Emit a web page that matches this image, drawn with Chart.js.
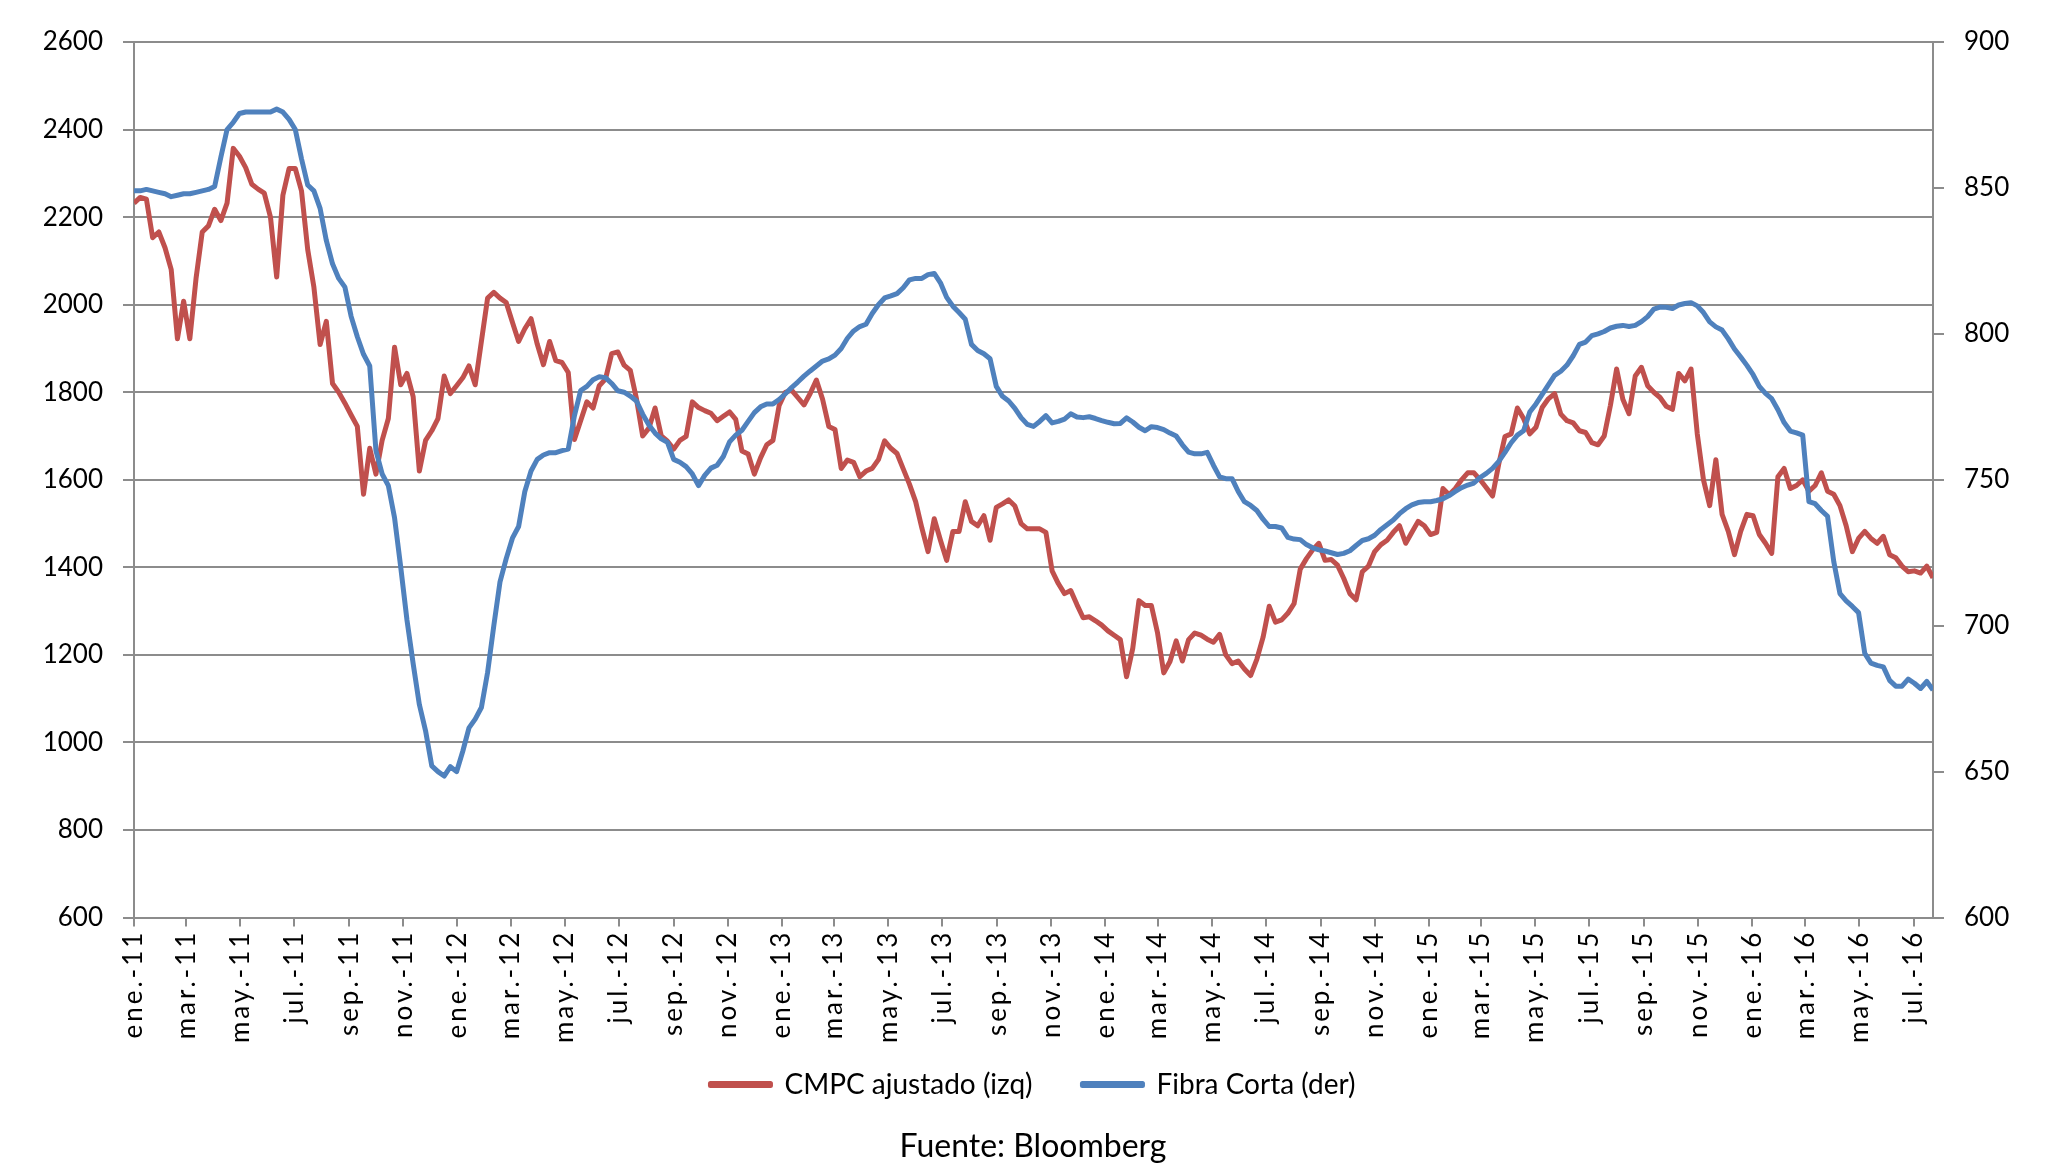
<!DOCTYPE html>
<html>
<head>
<meta charset="utf-8">
<title>CMPC ajustado vs Fibra Corta</title>
<script src="https://cdn.jsdelivr.net/npm/chart.js@4.4.1/dist/chart.umd.min.js"></script>
<style>
  html, body { margin: 0; padding: 0; background: #ffffff; }
  #chart { display: block; }
</style>
</head>
<body>
<canvas id="chart" width="2066" height="1176"></canvas>
<script>
// weekly series, first week = 1 ene 2011
var startYear = 2011;
var weekStep = 7;

// CMPC ajustado (eje izq)
var cmpc = [
  2232,2245,2241,2153,2166,2130,2080,1922,2008,1922,
  2060,2166,2180,2218,2192,2232,2357,2339,2313,2275,
  2264,2255,2200,2063,2250,2311,2311,2260,2126,2040,
  1909,1962,1820,1800,1775,1748,1722,1567,1672,1613,
  1690,1740,1903,1817,1843,1790,1620,1690,1712,1740,
  1837,1797,1815,1833,1860,1817,1916,2015,2028,2015,
  2005,1960,1916,1945,1968,1910,1863,1916,1872,1868,
  1845,1692,1735,1778,1764,1815,1830,1888,1892,1862,
  1850,1785,1700,1718,1764,1700,1688,1670,1690,1699,
  1778,1765,1758,1752,1735,1745,1755,1738,1666,1659,
  1613,1650,1680,1690,1770,1800,1805,1788,1771,1797,
  1828,1784,1722,1715,1626,1645,1640,1607,1620,1626,
  1646,1689,1672,1660,1625,1590,1550,1490,1436,1511,
  1462,1416,1482,1482,1550,1505,1495,1518,1462,1537,
  1545,1554,1540,1500,1488,1488,1488,1480,1392,1363,
  1340,1347,1315,1285,1287,1278,1268,1255,1245,1235,
  1150,1215,1324,1313,1313,1250,1159,1185,1232,1186,
  1235,1250,1245,1236,1229,1247,1200,1180,1186,1168,
  1153,1190,1240,1311,1275,1280,1295,1317,1396,1420,
  1440,1455,1416,1418,1405,1375,1340,1326,1390,1403,
  1436,1452,1462,1480,1495,1455,1480,1505,1495,1475,
  1480,1580,1566,1580,1600,1616,1616,1600,1582,1563,
  1636,1699,1705,1764,1740,1705,1720,1765,1785,1797,
  1750,1735,1730,1712,1708,1685,1680,1700,1770,1853,
  1784,1751,1837,1857,1815,1800,1788,1768,1761,1843,
  1826,1853,1705,1600,1541,1646,1521,1482,1429,1482,
  1521,1518,1475,1455,1432,1607,1626,1580,1587,1600,
  1574,1587,1616,1574,1567,1541,1495,1436,1466,1482,
  1466,1455,1471,1429,1422,1403,1390,1392,1387,1403,
  1376
];

// Fibra Corta (eje der)
var fibra = [
  849,849,849.5,849,848.5,848,847,847.5,848,848,
  848.5,849,849.5,850.5,860.5,870,872.5,875.5,876,876,
  876,876,876,877,876,873.5,870,860,851,849,
  843,832,824,819,816,806,799,793,789,760,
  752,748,737,720,702,687,673,664,652,650,
  648.5,651.7,650,657,665,668,672,684,700,715,
  723,730,734,746,753,757,758.5,759.3,759.3,760,
  760.5,772,780.6,782,784.3,785.3,785,783,780.5,780,
  778.7,777,772.5,768.8,766,764,762.8,757,756,754.5,
  752,748,751.5,754,755,758,763,765.3,767,770,
  773,775,776,776,777.5,779.5,781.6,783.5,785.5,787.3,
  789,790.7,791.4,792.7,795,798.5,801,802.5,803.3,807,
  810,812.3,813,813.8,815.8,818.5,819,819,820.3,820.7,
  817.5,812.5,809.5,807.3,805,796.4,794.3,793.2,791.5,782,
  778.6,777,774.5,771.3,769,768.3,770,772,769.5,770,
  770.8,772.6,771.5,771.3,771.6,771,770.3,769.7,769.2,769.3,
  771.2,769.8,768,766.8,768.2,767.9,767.2,766,765,762,
  759.5,758.9,758.9,759.4,755,751,750.4,750.4,746,742.5,
  741.2,739.5,736.5,734,734,733.5,730.3,729.7,729.5,727.8,
  726.7,726,725.6,725,724.4,724.8,725.7,727.5,729.2,729.8,
  731,733,734.6,736.2,738.4,740.1,741.4,742.2,742.5,742.5,
  742.9,743.5,744.6,746,747.3,748.2,748.9,750.8,752.2,753.9,
  756.3,759.4,762.7,765.3,766.8,773.2,776,779.3,782.5,785.8,
  787.2,789.3,792.5,796.4,797.2,799.4,800,800.8,802,802.6,
  802.9,802.5,802.9,804.2,805.9,808.5,809.2,809.1,808.7,809.9,
  810.4,810.7,809.6,807.3,804.1,802.4,801.3,798.3,794.8,792.1,
  789.2,786,782,779.6,777.8,774,769.6,766.7,766.1,765.3,
  742.5,741.8,739.5,737.5,722,711,708.5,706.6,704.5,690.5,
  687.2,686.4,685.9,681.3,679.3,679.3,681.7,680.3,678.5,680.9,
  678
];

var meses = ['ene','feb','mar','abr','may','jun','jul','ago','sep','oct','nov','dic'];
var tickMonths = [];   // every 2 months, ene.-11 .. jul.-16
for (var k = 0; k <= 66; k += 2) tickMonths.push(k);

var leftTicks = { min: 600, max: 2600, step: 200 };
var rightTicks = { min: 600, max: 900, step: 50 };

var DAY = 86400000;
var t0 = Date.UTC(startYear, 0, 1);
var tickDays = tickMonths.map(function (m) { return (Date.UTC(startYear, m, 1) - t0) / DAY; });
var tickLabels = {};
tickMonths.forEach(function (m, i) {
  tickLabels[tickDays[i]] = meses[m % 12] + '.-' + String(startYear - 2000 + Math.floor(m / 12));
});

function toPoints(arr) {
  return arr.map(function (v, i) { return { x: i * weekStep, y: v }; });
}

var gridGray = '#8c8c8c';
var font = { family: 'Lato', size: 26 };
var plainNumber = function (value) { return String(value); };

var ctx = document.getElementById('chart');
var chart = new Chart(ctx, {
  type: 'line',
  data: {
    datasets: [
      {
        label: 'CMPC ajustado (izq)',
        data: toPoints(cmpc),
        yAxisID: 'y',
        borderColor: '#C0504D',
        backgroundColor: '#C0504D',
        borderWidth: 5,
        pointRadius: 0,
        tension: 0,
        borderJoinStyle: 'round',
        order: 1
      },
      {
        label: 'Fibra Corta (der)',
        data: toPoints(fibra),
        yAxisID: 'y2',
        borderColor: '#4F81BD',
        backgroundColor: '#4F81BD',
        borderWidth: 5,
        pointRadius: 0,
        tension: 0,
        borderJoinStyle: 'round',
        order: 0
      }
    ]
  },
  options: {
    responsive: false,
    devicePixelRatio: 1,
    animation: false,
    layout: { padding: { top: 42, left: 0, right: 0, bottom: 10 } },
    plugins: {
      tooltip: { enabled: false },
      legend: {
        position: 'bottom',
        labels: {
          boxWidth: 60,
          boxHeight: 2,
          padding: 50,
          color: '#000',
          font: { family: 'Lato', size: 28 },
          sort: function (a, b) { return a.datasetIndex - b.datasetIndex; }
        }
      },
      title: {
        display: true,
        position: 'bottom',
        text: 'Fuente: Bloomberg',
        color: '#000',
        font: { family: 'Lato', size: 32, weight: 'normal' },
        padding: { top: 19, bottom: 0 }
      }
    },
    scales: {
      x: {
        type: 'linear',
        position: 'bottom',
        min: 0,
        max: (cmpc.length - 1) * weekStep,
        afterBuildTicks: function (axis) {
          axis.ticks = tickDays.map(function (d) { return { value: d }; });
        },
        afterFit: function (scale) { scale.height = 103; },
        border: { color: gridGray, width: 2 },
        grid: { drawOnChartArea: false, drawTicks: true, tickLength: 9, color: gridGray, lineWidth: 2 },
        ticks: {
          autoSkip: false,
          minRotation: 90,
          maxRotation: 90,
          padding: 3,
          color: '#000',
          font: font,
          callback: function (value) { return tickLabels[value]; }
        }
      },
      y: {
        position: 'left',
        min: leftTicks.min,
        max: leftTicks.max,
        afterFit: function (scale) { scale.width = 134; },
        border: { color: gridGray, width: 2 },
        grid: { color: gridGray, lineWidth: 2, tickLength: 11 },
        ticks: { stepSize: leftTicks.step, padding: 20, color: '#000', font: font, callback: plainNumber }
      },
      y2: {
        position: 'right',
        min: rightTicks.min,
        max: rightTicks.max,
        afterFit: function (scale) { scale.width = 133; },
        border: { color: gridGray, width: 2 },
        grid: { drawOnChartArea: false, color: gridGray, lineWidth: 2, tickLength: 11 },
        ticks: { stepSize: rightTicks.step, padding: 20, color: '#000', font: font, callback: plainNumber }
      }
    }
  }
});

// the date labels in the original are drawn with wide letter spacing,
// and run a little past the axis box, so no clipping for them
var xScale = chart.scales.x;
var baseDrawLabels = xScale.drawLabels;
xScale._computeLabelArea = function () { return undefined; };
xScale.drawLabels = function (area) {
  var c = this.ctx;
  c.save();
  c.letterSpacing = '3px';
  baseDrawLabels.call(this, area);
  c.restore();
};
chart.draw();
</script>
</body>
</html>
